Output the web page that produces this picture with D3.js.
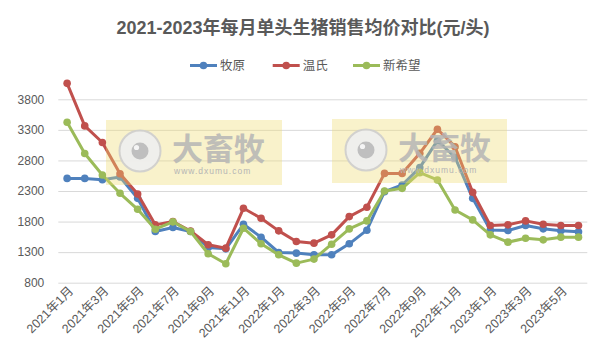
<!DOCTYPE html>
<html><head><meta charset="utf-8">
<script src="https://cdn.jsdelivr.net/npm/d3@7"></script>
<style>
body{margin:0;background:#fff;}
svg{display:block;}
text{font-family:"Liberation Sans","Noto Sans CJK SC",sans-serif;}
</style></head>
<body>
<svg id="c" width="606" height="361"></svg>
<script>
const months = [];
for (const y of [2021, 2022, 2023]) {
  const last = y === 2023 ? 6 : 12;
  for (let m = 1; m <= last; m++) months.push(y + "年" + m + "月");
}
const seriesNames = ["牧原", "温氏", "新希望"];
const seriesColors = ["#4F81BD", "#C0504D", "#9BBB59"];
const muyuan = [2506,2506,2485,2530,2180,1637,1702,1637,1376,1354,1756,1544,1294,1284,1256,1256,1436,1659,2289,2398,2682,3123,2852,2180,1663,1654,1735,1681,1648,1632];
const wens = [4061,3365,3093,2583,2251,1746,1800,1645,1420,1365,2017,1854,1648,1474,1447,1583,1881,2034,2588,2588,2917,3310,3025,2279,1735,1746,1811,1757,1735,1735];
const xinxiwang = [3425,2914,2561,2262,2001,1675,1795,1637,1273,1110,1691,1436,1256,1120,1186,1430,1680,1811,2300,2343,2600,2481,1990,1827,1583,1463,1528,1501,1545,1545];
const yTicks = [800,1300,1800,2300,2800,3300,3800];
const title = "2021-2023年每月单头生猪销售均价对比(元/头)";

const svg = d3.select("#c");
const gray = "#595959";

const x = d3.scaleBand().domain(months).range([58.3, 587.3]).padding(0);
const y = d3.scaleLinear().domain([800, 3800]).range([282.7, 99.3]);

// gridlines
const yAxis = d3.axisLeft(y).tickValues(yTicks).tickFormat(d3.format("d")).tickSize(-(587.3 - 58.3)).tickPadding(14);
const gy = svg.append("g").attr("transform", "translate(58.3,0)").call(yAxis);
gy.select(".domain").remove();
gy.selectAll(".tick line").attr("stroke", "#d9d9d9").attr("stroke-width", 1);
gy.selectAll(".tick text").attr("fill", gray).attr("font-size", 12);

// x axis labels
const xAxis = d3.axisBottom(x).tickValues(months.filter((d, i) => i % 2 === 0)).tickSize(0).tickPadding(0);
const gx = svg.append("g").attr("transform", "translate(0,282.7)").call(xAxis);
gx.select(".domain").remove();
gx.selectAll(".tick text")
  .attr("fill", gray).attr("font-size", 12.5)
  .attr("text-anchor", "end")
  .attr("dy", null).attr("y", 0)
  .attr("transform", "translate(7,9) rotate(-45)");

// lines
const data = [muyuan, wens, xinxiwang];
const line = d3.line().x((d, i) => x(months[i]) + x.bandwidth() / 2).y(d => y(d));
data.forEach((vals, k) => {
  const g = svg.append("g");
  g.append("path").datum(vals).attr("d", line).attr("fill", "none")
    .attr("stroke", seriesColors[k]).attr("stroke-width", 3).attr("stroke-linejoin", "round");
  g.selectAll("circle").data(vals).join("circle")
    .attr("cx", (d, i) => x(months[i]) + x.bandwidth() / 2)
    .attr("cy", d => y(d)).attr("r", 3.8).attr("fill", seriesColors[k]);
});

// watermarks (overlay)
function watermark(x0, y0, w, h) {
  const g = svg.append("g");
  g.append("rect").attr("x", x0).attr("y", y0).attr("width", w).attr("height", h)
    .attr("fill", "#EEDC6E").attr("opacity", 0.36);
  const cx = x0 + 34, cy = y0 + 31;
  g.append("circle").attr("cx", cx).attr("cy", cy).attr("r", 20.5).attr("fill", "#efefef").attr("stroke", "#cfcfcf").attr("stroke-width", 2).attr("opacity", 0.92);
  g.append("circle").attr("cx", cx).attr("cy", cy).attr("r", 8.5).attr("fill", "#bfbfbf");
  g.append("circle").attr("cx", cx - 3.5).attr("cy", cy - 3.5).attr("r", 2.6).attr("fill", "#f5f5f5");
  g.append("text").attr("x", x0 + 66).attr("y", y0 + 40).attr("font-size", 31).attr("font-weight", "bold")
    .attr("fill", "#b5b5b5").attr("opacity", 0.85).attr("font-family", "Noto Sans CJK SC").text("大畜牧");
  g.append("text").attr("x", x0 + 68).attr("y", y0 + 54).attr("font-size", 8.5)
    .attr("fill", "#b5b5b5").attr("letter-spacing", 1).text("www.dxumu.com");
}
watermark(106, 120, 176, 65);
watermark(332, 119, 175, 64);

// title
svg.append("text").attr("x", 303).attr("y", 34).attr("text-anchor", "middle")
  .attr("font-size", 18).attr("font-weight", "bold").attr("fill", gray)
  .text(title);

// legend
const legX = [190, 272.7, 353];
seriesNames.forEach((n, k) => {
  const g = svg.append("g");
  g.append("line").attr("x1", legX[k]).attr("x2", legX[k] + 27).attr("y1", 65.5).attr("y2", 65.5)
    .attr("stroke", seriesColors[k]).attr("stroke-width", 3);
  g.append("circle").attr("cx", legX[k] + 13.5).attr("cy", 65.5).attr("r", 3.8).attr("fill", seriesColors[k]);
  g.append("text").attr("x", legX[k] + 30).attr("y", 70).attr("font-size", 12.5).attr("fill", gray).text(n);
});
</script>
</body></html>
